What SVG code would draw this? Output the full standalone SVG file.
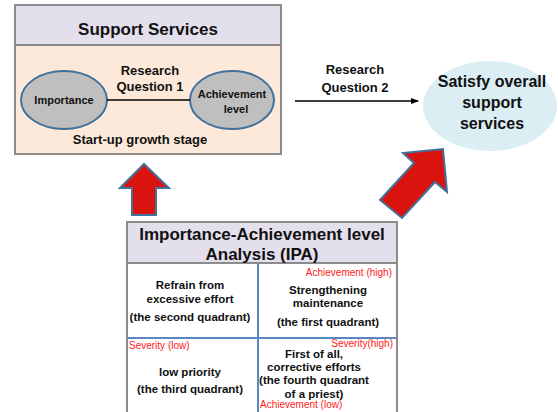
<svg xmlns="http://www.w3.org/2000/svg" width="558" height="412" viewBox="0 0 558 412">
<defs>
<marker id="ah" markerWidth="8" markerHeight="8" refX="7" refY="4" orient="auto" markerUnits="userSpaceOnUse">
<path d="M0,1 L8,4 L0,7 Z" fill="#000"/>
</marker>
<style>
text{font-family:"Liberation Sans",Arial,sans-serif;font-weight:bold;fill:#111;text-anchor:middle}
.t17{font-size:17px}
.t13{font-size:13px}
.t15{font-size:16px}
.t11{font-size:11px}
.q{font-size:11.5px}
.red{font-size:10px;font-weight:normal;fill:#ff2020}
.frame{stroke:#8c8c8c;stroke-width:2}
.ell{fill:#bfbfbf;stroke:#41719c;stroke-width:2}
.bigarrow{fill:#d9140e;stroke:#41719c;stroke-width:2;stroke-linejoin:miter}
.grid{stroke:#5b87c0;stroke-width:2}
</style>
</defs>

<g id="support-services">
<rect x="15" y="45" width="266" height="109" fill="#fde9d9" class="frame"/>
<rect x="15" y="5" width="266" height="40" fill="#e4dfec" class="frame"/>
<text class="t17" x="148" y="35">Support Services</text>
<text class="t13" x="150" y="75">Research</text>
<text class="t13" x="150" y="91">Question 1</text>
<text class="t13" x="140" y="144">Start-up growth stage</text>
</g>

<g id="importance">
<ellipse cx="64" cy="100" rx="43" ry="29" class="ell"/>
<text class="t11" x="64" y="104">Importance</text>
</g>

<g id="achievement">
<ellipse cx="232" cy="100" rx="42" ry="29" class="ell"/>
<text class="t11" x="232" y="98">Achievement</text>
<text class="t11" x="236" y="113">level</text>
</g>

<g id="satisfy">
<ellipse cx="490" cy="106" rx="67" ry="45" fill="#dbeef4"/>
<text class="t15" x="492" y="87">Satisfy overall</text>
<text class="t15" x="492" y="108">support</text>
<text class="t15" x="492" y="129">services</text>
</g>

<g id="connectors">
<line x1="107" y1="100" x2="190" y2="100" stroke="#000" stroke-width="1.5"/>
<line x1="295" y1="101" x2="418" y2="101" stroke="#000" stroke-width="1.5" marker-end="url(#ah)"/>
<text class="t13" x="355" y="74">Research</text>
<text class="t13" x="355" y="92">Question 2</text>
<polygon class="bigarrow" points="144,164 169,188 156,188 156,215 132,215 132,188 120,188"/>
<polygon class="bigarrow" points="443,149 447,192 435,182 402,218 380,200 414,163 403,153"/>
</g>

<g id="ipa">
<rect x="127" y="263" width="270" height="152" fill="#fff" class="frame"/>
<rect x="127" y="222" width="270" height="41" fill="#e4dfec" class="frame"/>
<text class="t17" x="262" y="240">Importance-Achievement level</text>
<text class="t17" x="262" y="260">Analysis (IPA)</text>
<line x1="258" y1="264" x2="258" y2="412" class="grid"/>
<line x1="128" y1="338" x2="396" y2="338" class="grid"/>
</g>

<g id="q2">
<text class="q" x="190" y="289">Refrain from</text>
<text class="q" x="190" y="303">excessive effort</text>
<text class="q" x="190" y="321">(the second quadrant)</text>
</g>
<g id="q1">
<text class="red" x="392" y="276" style="text-anchor:end">Achievement (high)</text>
<text class="q" x="328" y="294">Strengthening</text>
<text class="q" x="328" y="307">maintenance</text>
<text class="q" x="328" y="326">(the first quadrant)</text>
</g>
<g id="q3">
<text class="red" x="129" y="349" style="text-anchor:start">Severity (low)</text>
<text class="q" x="190" y="376">low priority</text>
<text class="q" x="190" y="393">(the third quadrant)</text>
</g>
<g id="q4">
<text class="red" x="393" y="347" style="text-anchor:end">Severity(high)</text>
<text class="q" x="314" y="358">First of all,</text>
<text class="q" x="314" y="371">corrective efforts</text>
<text class="q" x="314" y="384">(the fourth quadrant</text>
<text class="q" x="314" y="398">of a priest)</text>
<text class="red" x="260" y="408" style="text-anchor:start">Achievement (low)</text>
</g>
</svg>
